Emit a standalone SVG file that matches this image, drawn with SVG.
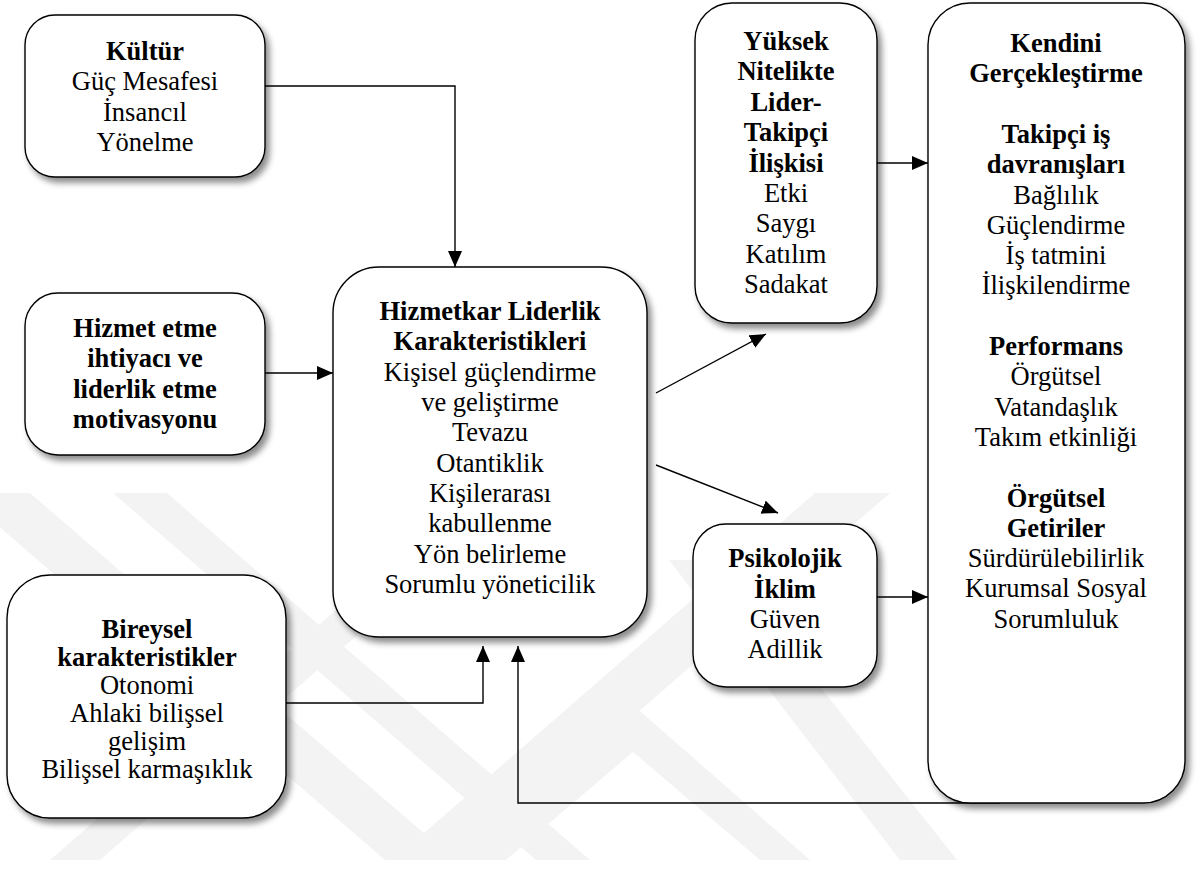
<svg xmlns="http://www.w3.org/2000/svg" width="1202" height="869" viewBox="0 0 1202 869">
<defs>
<filter id="sh" x="-10%" y="-10%" width="130%" height="130%">
<feDropShadow dx="4" dy="5" stdDeviation="3" flood-color="#000" flood-opacity="0.45"/>
</filter>
<marker id="ah" viewBox="0 0 16 14" refX="16" refY="7" markerWidth="16" markerHeight="14" markerUnits="userSpaceOnUse" orient="auto">
<path d="M0,0 L16,7 L0,14 Z" fill="#000"/>
</marker>
<style>
.box{fill:#fff;stroke:#000;stroke-width:1.4;filter:url(#sh)}
.t{font-family:'Liberation Serif','Times New Roman',serif;font-size:26.5px;fill:#000;text-anchor:middle}
.b{font-weight:bold}
.c{fill:none;stroke:#000;stroke-width:1.4}
.wm{fill:#f3f3f3}
</style>
</defs>
<rect width="1202" height="869" fill="#fff"/>
<g id="watermark">
<polygon class="wm" points="-40,493 30,493 455,860 385,860"/>
<polygon class="wm" points="113,493 167,493 590,860 536,860"/>
<polygon class="wm" points="815,493 890,493 468,860 393,860"/>
<polygon class="wm" points="50,860 100,860 520,493 470,493"/>
<polygon class="wm" points="633,705 810,860 760,860 633,752 506,860 456,860"/>
<polygon class="wm" points="669,560 720,560 957,860 900,860"/>
</g>
<g id="connectors">
<polyline class="c" points="265,86 455,86 455,267" marker-end="url(#ah)"/>
<line class="c" x1="265" y1="373" x2="333" y2="373" marker-end="url(#ah)"/>
<polyline class="c" points="286,703 483,703 483,646" marker-end="url(#ah)"/>
<polyline class="c" points="1000,803 518,803 518,646" marker-end="url(#ah)"/>
<line class="c" x1="656" y1="393" x2="766" y2="334" marker-end="url(#ah)"/>
<line class="c" x1="656" y1="465" x2="778" y2="513" marker-end="url(#ah)"/>
<line class="c" x1="877" y1="163" x2="928" y2="163" marker-end="url(#ah)"/>
<line class="c" x1="877" y1="597" x2="928" y2="597" marker-end="url(#ah)"/>
</g>
<g id="kultur">
<rect class="box" x="25" y="15" width="240" height="162" rx="30"/>
<text class="t"><tspan class="b" x="145" y="60">Kültür</tspan><tspan x="145" y="90.3">Güç Mesafesi</tspan><tspan x="145" y="120.6">İnsancıl</tspan><tspan x="145" y="150.9">Yönelme</tspan></text>
</g>
<g id="hizmet">
<rect class="box" x="25" y="293" width="240" height="162" rx="33"/>
<text class="t b"><tspan x="145" y="337">Hizmet etme</tspan><tspan x="145" y="367.3">ihtiyacı ve</tspan><tspan x="145" y="397.6">liderlik etme</tspan><tspan x="145" y="428">motivasyonu</tspan></text>
</g>
<g id="bireysel">
<rect class="box" x="7" y="575" width="279" height="243" rx="43"/>
<text class="t"><tspan class="b" x="147" y="638">Bireysel</tspan><tspan class="b" x="147" y="666">karakteristikler</tspan><tspan x="147" y="694">Otonomi</tspan><tspan x="147" y="722">Ahlaki bilişsel</tspan><tspan x="147" y="750">gelişim</tspan><tspan x="147" y="778">Bilişsel karmaşıklık</tspan></text>
</g>
<g id="hizmetkar">
<rect class="box" x="333" y="267" width="314" height="370" rx="46"/>
<text class="t"><tspan class="b" x="490" y="320">Hizmetkar Liderlik</tspan><tspan class="b" x="490" y="350.3">Karakteristikleri</tspan><tspan x="490" y="380.7">Kişisel güçlendirme</tspan><tspan x="490" y="411">ve geliştirme</tspan><tspan x="490" y="441.4">Tevazu</tspan><tspan x="490" y="471.7">Otantiklik</tspan><tspan x="490" y="502">Kişilerarası</tspan><tspan x="490" y="532.4">kabullenme</tspan><tspan x="490" y="562.7">Yön belirleme</tspan><tspan x="490" y="593">Sorumlu yöneticilik</tspan></text>
</g>
<g id="yuksek">
<rect class="box" x="695" y="3" width="182" height="320" rx="37"/>
<text class="t"><tspan class="b" x="786" y="50">Yüksek</tspan><tspan class="b" x="786" y="80.4">Nitelikte</tspan><tspan class="b" x="786" y="110.8">Lider-</tspan><tspan class="b" x="786" y="141.2">Takipçi</tspan><tspan class="b" x="786" y="171.6">İlişkisi</tspan><tspan x="786" y="202">Etki</tspan><tspan x="786" y="232.4">Saygı</tspan><tspan x="786" y="262.8">Katılım</tspan><tspan x="786" y="293.2">Sadakat</tspan></text>
</g>
<g id="psikolojik">
<rect class="box" x="693" y="524" width="184" height="163" rx="33"/>
<text class="t"><tspan class="b" x="785" y="567">Psikolojik</tspan><tspan class="b" x="785" y="597.5">İklim</tspan><tspan x="785" y="628">Güven</tspan><tspan x="785" y="658">Adillik</tspan></text>
</g>
<g id="kendini">
<rect class="box" x="928" y="3" width="257" height="800" rx="42"/>
<text class="t"><tspan class="b" x="1056" y="52">Kendini</tspan><tspan class="b" x="1056" y="82.3">Gerçekleştirme</tspan><tspan class="b" x="1056" y="142.9">Takipçi iş</tspan><tspan class="b" x="1056" y="173.2">davranışları</tspan><tspan x="1056" y="203.5">Bağlılık</tspan><tspan x="1056" y="233.8">Güçlendirme</tspan><tspan x="1056" y="264.1">İş tatmini</tspan><tspan x="1056" y="294.4">İlişkilendirme</tspan><tspan class="b" x="1056" y="355">Performans</tspan><tspan x="1056" y="385.3">Örgütsel</tspan><tspan x="1056" y="415.6">Vatandaşlık</tspan><tspan x="1056" y="445.9">Takım etkinliği</tspan><tspan class="b" x="1056" y="506.5">Örgütsel</tspan><tspan class="b" x="1056" y="536.8">Getiriler</tspan><tspan x="1056" y="567.1">Sürdürülebilirlik</tspan><tspan x="1056" y="597.4">Kurumsal Sosyal</tspan><tspan x="1056" y="627.7">Sorumluluk</tspan></text>
</g>
</svg>
